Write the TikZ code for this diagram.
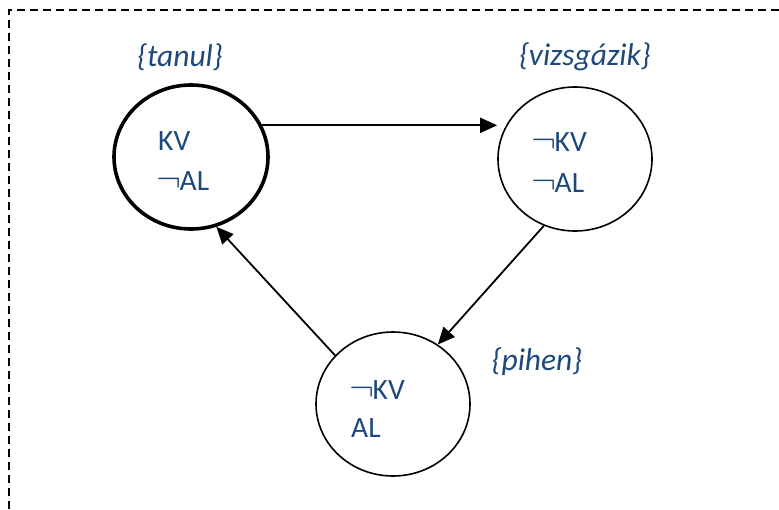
\documentclass[tikz,border=0pt]{standalone}
\usepackage{fix-cm}
\usepackage{fontspec}
\setmainfont{Carlito}
\usepackage{graphicx}
\usepackage{tikz}
\usetikzlibrary{shapes,arrows.meta,positioning,calc}
\usepackage{xcolor}
\definecolor{stateblue}{RGB}{31,73,125}
\newcommand{\negsign}{\raisebox{-1.5pt}[0pt][0pt]{\resizebox{25pt}{!}{$\neg$}}\hspace{-1.5pt}}

\begin{document}
\begin{tikzpicture}[x=1pt,y=-1pt,
    state/.style={ellipse,draw,line width=1.6pt,minimum width=154pt,minimum height=144pt},
    startstate/.style={state,line width=3.6pt},
    var/.style={anchor=base west,inner sep=0pt,text=stateblue,font=\fontsize{29.5}{35}\selectfont},
    statename/.style={inner sep=0pt,text=stateblue,font=\fontsize{31.5}{38}\selectfont\itshape},
    trans/.style={-{Triangle[length=17pt,width=15pt]},line width=1.8pt}]
            \useasboundingbox (0,0) rectangle (779,509);
            % Frame: dashed, open at right and bottom
            \draw[line width=1.2pt,dash pattern=on 8pt off 5pt] (9,509) -- (9,10) -- (779,10);
            % States
            \node[startstate] (tanul) at (191,157) {};
            \node[state] (vizsga) at (575,159) {};
            \node[state] (pihen) at (393,404) {};
            % State names
            \node[statename] (tanulname) at (180,57) {\{tanul\}};
            \node[statename] (vizsganame) at (585,57) {\{vizsgázik\}};
            \node[statename] (pihenname) at (537,362) {\{pihen\}};
            % Variables: tanul
            \node[var] (tanulKV) at (158,150) {KV};
            \node[var] (tanulAL) at (156,190) {\negsign AL};
            % Variables: vizsgazik
            \node[var] (vizsgaKV) at (531,151) {\negsign KV};
            \node[var] (vizsgaAL) at (531,192) {\negsign AL};
            % Variables: pihen
            \node[var] (pihenKV) at (349,399) {\negsign KV};
            \node[var] (pihenAL) at (351,437) {AL};
            % Transitions
            \draw[trans] (tanul.24) -- (tanul.24 -| vizsga.west);
            \draw[trans] (vizsga.245) -- (pihen.53);
            \draw[trans] (pihen.140) -- (tanul.290);
        \end{tikzpicture}
\end{document}
